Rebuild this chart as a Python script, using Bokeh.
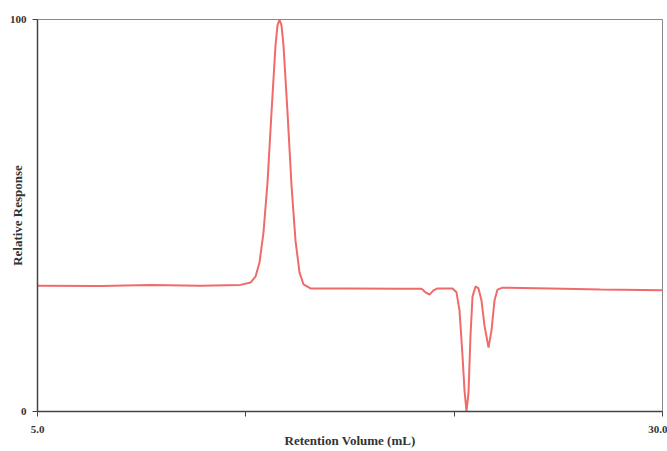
from bokeh.plotting import figure
from bokeh.models import FixedTicker, CustomJSTickFormatter, Range1d
from bokeh.embed import file_html
from bokeh.resources import INLINE

# Retention volume (mL) and relative response
volume = [5.00, 7.52, 9.52, 11.52, 13.12, 13.52, 13.72, 13.88, 14.04, 14.20,
          14.36, 14.52, 14.60, 14.68, 14.76, 14.84, 15.00, 15.16, 15.32, 15.48,
          15.64, 15.92, 17.52, 19.52, 20.36, 20.52, 20.68, 20.84, 21.00, 21.60,
          21.76, 21.88, 22.00, 22.08, 22.16, 22.24, 22.32, 22.40, 22.52, 22.64,
          22.76, 22.88, 23.04, 23.16, 23.28, 23.40, 23.60, 25.52, 27.52, 30.00]
response = [32.1, 32.0, 32.3, 32.1, 32.3, 32.9, 34.4, 38.0, 45.7, 58.4,
            76.3, 93.4, 98.5, 100.0, 98.5, 93.4, 76.3, 57.7, 43.6, 35.5,
            32.4, 31.4, 31.4, 31.3, 31.3, 30.4, 29.8, 30.9, 31.4, 31.4,
            30.4, 25.8, 14.3, 5.4, 0.0, 4.8, 19.4, 29.3, 31.9, 31.4,
            28.3, 21.9, 16.3, 20.7, 28.3, 31.1, 31.6, 31.4, 31.1, 30.9]

x_ticks = [5.0, 13.333333, 21.666667, 30.0]
y_ticks = [0, 100]

p = figure(width=667, height=451, output_backend="svg", toolbar_location=None,
           x_range=Range1d(5, 30), y_range=Range1d(0, 100),
           min_border_left=37, min_border_right=5, min_border_top=19,
           min_border_bottom=40)

p.line(volume, response, line_color="#f06a6a", line_width=2)

p.xgrid.visible = False
p.ygrid.visible = False
p.outline_line_color = "#888888"
p.outline_line_width = 1
p.background_fill_color = "white"
p.border_fill_color = "white"

font = "Liberation Serif"

p.xaxis.ticker = FixedTicker(ticks=x_ticks)
p.xaxis.formatter = CustomJSTickFormatter(code="""
    if (Math.abs(tick - 5) < 1e-6) return "5.0";
    if (Math.abs(tick - 30) < 1e-6) return "30.0";
    return "";
""")
p.xaxis.axis_label = "Retention Volume (mL)"
p.yaxis.ticker = FixedTicker(ticks=y_ticks)
p.yaxis.axis_label = "Relative Response"

for ax in (p.xaxis[0], p.yaxis[0]):
    ax.axis_line_color = "#444444"
    ax.axis_line_width = 1.5
    ax.major_tick_line_color = "#444444"
    ax.major_tick_in = 0
    ax.major_tick_out = 5
    ax.minor_tick_line_color = None
    ax.major_label_text_font = font
    ax.major_label_text_font_style = "bold"
    ax.major_label_text_font_size = "11px"
    ax.major_label_text_color = "#333333"
    ax.axis_label_text_font = font
    ax.axis_label_text_font_style = "bold"
    ax.axis_label_text_font_size = "13px"
    ax.axis_label_text_color = "#333333"

p.xaxis.major_label_standoff = 9
p.xaxis.axis_label_standoff = -3
p.yaxis.major_label_standoff = 6
p.yaxis.axis_label_standoff = -18

open("out.html", "w").write(file_html(p, INLINE))
